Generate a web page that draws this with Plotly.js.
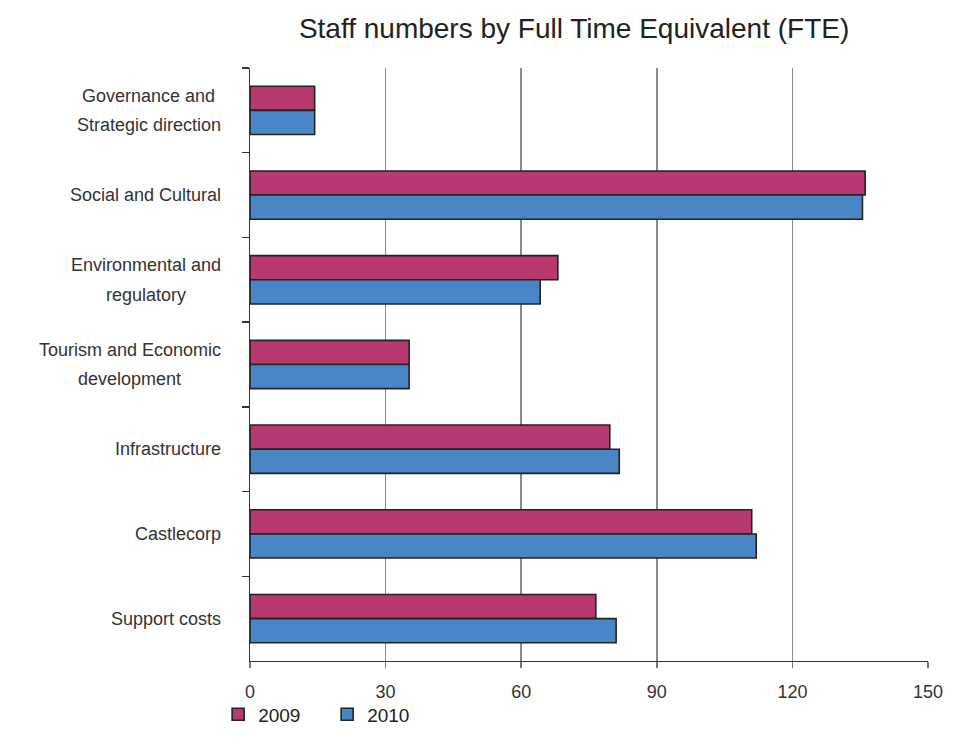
<!DOCTYPE html>
<html>
<head>
<meta charset="utf-8">
<script src="https://cdn.plot.ly/plotly-3.0.1.min.js"></script>
<style>html,body{margin:0;padding:0;background:#fff;}#chart{width:960px;height:748px;}</style>
</head>
<body>
<div id="chart"></div>
<script>
var categories = ["Governance and<br>Strategic direction", "Social and Cultural", "Environmental and<br>regulatory", "Tourism and Economic<br>development", "Infrastructure", "Castlecorp", "Support costs"];
var values2009 = [14.3, 136.1, 68.1, 35.2, 79.6, 111.0, 76.5];
var values2010 = [14.3, 135.5, 64.2, 35.2, 81.7, 112.0, 81.0];
var seriesNames = ["2009", "2010"];
var xTicks = [0, 30, 60, 90, 120, 150];

var ids = categories.map(function (c, i) { return "c" + i; });

var traces = [
  {type: "bar", orientation: "h", name: seriesNames[0], y: ids, x: values2009,
   marker: {color: "#B83870", line: {color: "#222222", width: 1.6}}},
  {type: "bar", orientation: "h", name: seriesNames[1], y: ids, x: values2010,
   marker: {color: "#4A86C5", line: {color: "#222222", width: 1.6}}}
];

var annotations = [];
var lineGap = 29.5;
categories.forEach(function (c, i) {
  var lines = c.split("<br>");
  lines.forEach(function (ln, j) {
    annotations.push({
      xref: "paper", yref: "y", x: -0.044, y: ids[i], xanchor: "center",
      text: ln, showarrow: false, align: "center",
      yshift: -((j - (lines.length - 1) / 2) * lineGap),
      font: {family: "Liberation Sans, Arial, sans-serif", size: 18, color: "#333333"}
    });
  });
});

var layout = {
  width: 960, height: 748,
  margin: {l: 250, r: 32, t: 68, b: 87},
  paper_bgcolor: "#ffffff", plot_bgcolor: "#ffffff",
  title: {text: "Staff numbers by Full Time Equivalent (FTE)", x: 0.598, xanchor: "center", y: 0.962, yanchor: "middle",
          font: {family: "Liberation Sans, Arial, sans-serif", size: 28, color: "#222222"}},
  barmode: "group", bargap: 0.43, bargroupgap: 0,
  xaxis: {range: [0, 150], tickvals: xTicks, ticktext: xTicks.map(String), showgrid: true, gridcolor: "#8a8a8a", gridwidth: 1.6,
          showline: true, linecolor: "#333333", linewidth: 1.3, ticks: "outside", ticklen: 6, tickcolor: "#777777", tickwidth: 1.5,
          zeroline: false, fixedrange: true, ticklabelstandoff: 8,
          tickfont: {family: "Liberation Sans, Arial, sans-serif", size: 18, color: "#333333"}},
  yaxis: {autorange: "reversed", showticklabels: false, showline: true, linecolor: "#333333", linewidth: 1.3,
          ticks: "outside", tickson: "boundaries", ticklen: 7, tickcolor: "#333333", tickwidth: 1.3, showgrid: false, fixedrange: true},
  showlegend: true,
  legend: {orientation: "h", x: -0.047, xanchor: "left", y: -0.058, yanchor: "top", entrywidth: 64, entrywidthmode: "pixels",
           bgcolor: "rgba(0,0,0,0)",
           font: {family: "Liberation Sans, Arial, sans-serif", size: 19, color: "#222222"}, traceorder: "normal"},
  annotations: annotations
};

Plotly.newPlot("chart", traces, layout, {displayModeBar: false, staticPlot: true}).then(function () {
  var gd = document.getElementById("chart");
  var texts = gd.querySelectorAll(".annotation-text");
  var widths = [];
  texts.forEach(function (t) { widths.push(t.getBBox().width); });
  var idx = 0, newAnn = [];
  categories.forEach(function (c, i) {
    var lines = c.split("<br>");
    var maxW = 0;
    for (var j = 0; j < lines.length; j++) maxW = Math.max(maxW, widths[idx + j]);
    var centerPx = 221 - maxW / 2;
    for (var j = 0; j < lines.length; j++) {
      var a = Object.assign({}, annotations[idx + j]);
      a.x = (centerPx - 250) / 678;
      newAnn.push(a);
    }
    idx += lines.length;
  });
  Plotly.relayout(gd, {annotations: newAnn});
});
</script>
</body>
</html>
